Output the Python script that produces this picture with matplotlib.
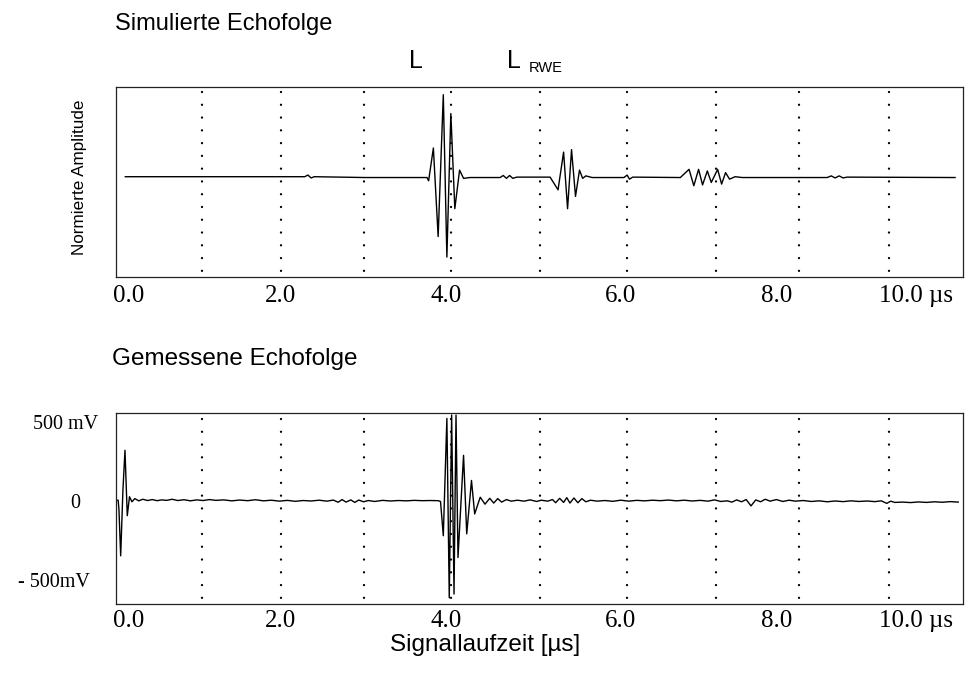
import matplotlib
matplotlib.use("Agg")
import matplotlib.pyplot as plt

# ---------------- data ----------------
# Simulated echo sequence: time [µs] and normalised amplitude (vertices of the trace)
sim_t = [-0.04, 1.0, 2.22, 2.26, 2.30, 2.34, 2.98, 3.76, 3.78, 3.84, 3.90, 3.965,
         4.01, 4.06, 4.11, 4.17, 4.22, 4.30, 4.68, 4.72, 4.76, 4.80, 4.84, 4.89,
         5.31, 5.41, 5.48, 5.53, 5.58, 5.63, 5.68, 5.72, 5.76, 5.84, 6.24, 6.28,
         6.31, 6.35, 6.95, 7.06, 7.12, 7.18, 7.23, 7.29, 7.34, 7.42, 7.47, 7.52,
         7.57, 7.64, 7.73, 8.80, 8.85, 8.90, 8.95, 9.00, 9.05, 10.41]
sim_amp = [0.0, 0.0, 0.0, 0.02, -0.015, 0.0, -0.01, -0.01, -0.05, 0.35, -0.73, 1.0,
           -0.98, 0.77, -0.39, 0.08, -0.02, -0.01, -0.01, 0.015, -0.02, 0.015, -0.02, -0.005,
           -0.005, -0.16, 0.30, -0.39, 0.33, -0.24, 0.08, -0.02, 0.01, -0.01, -0.01, 0.02,
           -0.03, -0.005, -0.01, 0.09, -0.11, 0.09, -0.10, 0.07, -0.07, 0.09, -0.09, 0.05,
           -0.03, 0.0, -0.01, -0.01, 0.01, -0.015, 0.01, -0.015, -0.005, -0.01]

# Measured echo sequence: time [µs] and voltage [mV]
meas_t = [-0.157, -0.13, -0.12, -0.098, -0.07, -0.044, -0.015, 0.013, 0.044, 0.08,
          0.13, 0.18, 0.24, 0.30, 0.36, 0.42, 0.48, 0.55, 0.62, 0.70, 0.78, 0.86,
          0.94, 1.02, 1.10, 1.20, 1.30, 1.40, 1.50, 1.60, 1.70, 1.80, 1.90, 2.00,
          2.10, 2.20, 2.30, 2.40, 2.50, 2.58, 2.64, 2.69, 2.74, 2.80, 2.85, 2.90,
          2.96, 3.02, 3.10, 3.20, 3.30, 3.40, 3.50, 3.60, 3.70, 3.80, 3.90, 3.93,
          3.965, 4.01, 4.04, 4.07, 4.10, 4.125, 4.15, 4.22, 4.26, 4.32, 4.36, 4.43,
          4.49, 4.55, 4.60, 4.65, 4.70, 4.76, 4.82, 4.90, 4.98, 5.06, 5.14, 5.20,
          5.28, 5.34, 5.38, 5.43, 5.48, 5.52, 5.56, 5.61, 5.66, 5.71, 5.76, 5.82,
          5.90, 6.00, 6.10, 6.20, 6.30, 6.40, 6.50, 6.60, 6.70, 6.80, 6.90, 7.00,
          7.10, 7.20, 7.30, 7.38, 7.46, 7.54, 7.60, 7.66, 7.72, 7.78, 7.84, 7.90,
          7.96, 8.02, 8.08, 8.16, 8.24, 8.32, 8.40, 8.50, 8.60, 8.70, 8.80, 8.90,
          9.00, 9.10, 9.20, 9.30, 9.40, 9.48, 9.55, 9.60, 9.65, 9.75, 9.85, 9.95,
          10.05, 10.15, 10.25, 10.35, 10.45]
meas_mv = [18, 18, -40, -334, 80, 334, -80, 40, 8, 28,
           14, 24, 16, 22, 15, 20, 17, 24, 16, 21, 14, 20,
           16, 22, 17, 20, 14, 19, 15, 21, 14, 18, 12, 17,
           11, 16, 13, 18, 12, 19, 5, 22, 6, 20, 4, 19,
           8, 16, 10, 17, 13, 16, 14, 17, 15, 16, 15, 10,
           -207, 536, -600, 557, -576, 557, -345, 302, -195, 143, -69, 37,
           -7, 30, 0, 28, 6, 22, 12, 18, 12, 20, 10, 18,
           12, 22, 2, 30, 4, 34, 0, 32, 2, 28, 8, 18,
           12, 16, 11, 18, 12, 17, 14, 18, 15, 19, 14, 18,
           13, 17, 12, 20, 10, 14, 6, 20, 8, 22, -18, 20,
           8, 24, 12, 22, 10, 18, 12, 16, 10, 14, 8, 13,
           9, 14, 10, 13, 9, 14, -2, 12, 4, 6, 3, 7,
           4, 8, 5, 9, 6]

grid_t = [0.93, 1.92, 2.96, 4.06, 5.18, 6.28, 7.40, 8.45, 9.58]
x_tick_labels = ["0.0", "2.0", "4.0", "6.0", "8.0", "10.0 µs"]
y_tick_vals = [500, 0, -500]
y_tick_labels = ["500 mV", "0", "- 500mV"]

# ---------------- layout ----------------
W, H = 967, 674
x_tick_pos = [0.0, 1.92, 4.0, 6.20, 8.16, 9.92]
XLIM = (-0.157, 10.51)

fig = plt.figure(figsize=(W / 100, H / 100), dpi=100)
fig.patch.set_facecolor("white")

def px_ax(left, top, right, bottom):
    return fig.add_axes([left / W, 1 - bottom / H, (right - left) / W, (bottom - top) / H])

serif = ["Liberation Serif", "DejaVu Serif"]
sans = ["Liberation Sans", "DejaVu Sans"]

ax1 = px_ax(116, 87, 963, 277)
ax2 = px_ax(116, 413, 963, 604)

for ax in (ax1, ax2):
    ax.set_xlim(*XLIM)
    for s in ax.spines.values():
        s.set_linewidth(0.9)
        s.set_color("#222222")
    ax.set_xticks(x_tick_pos)
    ax.set_xticklabels(x_tick_labels, fontfamily=serif, fontsize=18)
    ax.tick_params(axis="x", length=0)
    ax.tick_params(axis="y", length=0)

# top panel
ax1.set_ylim(-1.223, 1.094)
ax1.set_yticks([])
ax1.tick_params(axis="x", pad=6)
ax1.plot(sim_t, sim_amp, color="black", lw=1.0)
for g in grid_t:
    ax1.plot([g, g], [1.03, -1.29], color="black", lw=1.7,
             linestyle=(0, (0.01, 5.4)), dash_capstyle="round", clip_on=False)
ax1.text(-0.034, 0.526, "Normierte Amplitude", transform=ax1.transAxes, rotation=90,
         ha="right", va="center", fontfamily=sans, fontsize=12.3)

# bottom panel
ax2.set_ylim(-639, 570)
ax2.set_yticks([])
ax2.tick_params(axis="x", pad=4)
ax2.plot(meas_t, meas_mv, color="black", lw=1.0)
for g in grid_t:
    ax2.plot([g, g], [535, -673], color="black", lw=1.7,
             linestyle=(0, (0.01, 5.4)), dash_capstyle="round", clip_on=False)
ylab_x = [-0.021, -0.042, -0.031]   # right edge of each label in axes fraction
for v, lab, xo in zip(y_tick_vals, y_tick_labels, ylab_x):
    ax2.text(xo, v, lab, transform=ax2.get_yaxis_transform(), ha="right", va="center",
             fontfamily=serif, fontsize=14.5)

# titles / annotations
fig.text(115 / W, 1 - 30 / H, "Simulierte Echofolge", fontfamily=sans, fontsize=17,
         ha="left", va="baseline")
fig.text(112 / W, 1 - 365 / H, "Gemessene Echofolge", fontfamily=sans, fontsize=17.5,
         ha="left", va="baseline")
fig.text(409 / W, 1 - 68 / H, "L", fontfamily=sans, fontsize=18, ha="left", va="baseline")
fig.text(507 / W, 1 - 68 / H, "L", fontfamily=sans, fontsize=18, ha="left", va="baseline")
fig.text(529 / W, 1 - 72 / H, "RWE", fontfamily=sans, fontsize=10.5, ha="left", va="baseline")
fig.text(485 / W, 1 - 651 / H, "Signallaufzeit [µs]", fontfamily=sans, fontsize=17.5,
         ha="center", va="baseline")

fig.savefig("out.png", dpi=100, facecolor="white")
